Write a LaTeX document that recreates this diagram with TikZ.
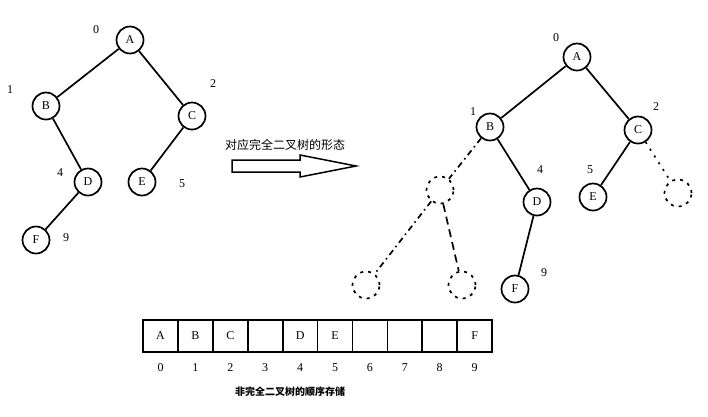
\documentclass[tikz,border=0pt]{standalone}
\usepackage{fontspec}
\setmainfont{Liberation Serif}
\newfontfamily\cjk{Noto Sans CJK SC}
\begin{document}
\begin{tikzpicture}[x=1pt,y=-1pt,
 nd/.style={circle,draw,line width=1.7pt,minimum size=27pt,inner sep=0pt,font=\large},
 gh/.style={circle,draw,line width=1.7pt,dash pattern=on 3pt off 5pt,minimum size=27pt},
 ed/.style={line width=1.7pt},
 de/.style={line width=1.7pt,dash pattern=on 6pt off 4pt on 1.5pt off 4pt},
 lb/.style={font=\large}]
\useasboundingbox (0,0) rectangle (708,416);
% left tree
\node[nd] (A) at (130,40) {A};
\node[nd] (B) at (46,106) {B};
\node[nd] (C) at (192,116) {C};
\node[nd] (D) at (88,182) {D};
\node[nd] (E) at (142,182) {E};
\node[nd] (F) at (36,240) {F};
\draw[ed] (A)--(B) (A)--(C) (B)--(D) (C)--(E) (D)--(F);
\node[lb] at (96,30) {0};
\node[lb] at (10,90) {1};
\node[lb] at (213,84) {2};
\node[lb] at (60,173) {4};
\node[lb] at (182,184) {5};
\node[lb] at (66,238) {9};
% arrow
\node[font=\cjk\large] (T) at (285,145) {对应完全二叉树的形态};
\draw[line width=1.5pt] (232,160)--(300,160)--(300,155)--(356,166)--(300,177)--(300,172)--(232,172)--cycle;
% right tree
\node[nd] (A2) at (577,57) {A};
\node[nd] (B2) at (490,127) {B};
\node[nd] (C2) at (638,130) {C};
\node[nd] (D2) at (537,202) {D};
\node[nd] (E2) at (593,197) {E};
\node[nd] (F2) at (515,289) {F};
\node[gh] (G1) at (440,190) {};
\node[gh] (G2) at (366,285) {};
\node[gh] (G3) at (462,285) {};
\node[gh] (G4) at (678,193) {};
\draw[ed] (A2)--(B2) (A2)--(C2) (B2)--(D2) (C2)--(E2) (D2)--(F2);
\draw[de] (B2)--(G1) (G1)--(G2);
\draw[line width=1.7pt,dash pattern=on 8pt off 5pt] (G1)--(G3);
\draw[line width=1.7pt,dash pattern=on 2pt off 6pt] (C2)--(G4);
\node[lb] at (556,38) {0};
\node[lb] at (473,112) {1};
\node[lb] at (656,107) {2};
\node[lb] at (540,170) {4};
\node[lb] at (590,170) {5};
\node[lb] at (544,273) {9};
% array
\foreach \i/\t in {0/A,1/B,2/C,3/,4/D,5/E,6/,7/,8/,9/F}{
 \node[draw,line width=1.7pt,minimum width=34.9pt,minimum height=32pt,inner sep=0pt,font=\large] (c\i) at (160.5+34.9*\i,336) {\t};
 \node[lb] (n\i) at (160.5+34.9*\i,368) {\i};
}
\node[font=\cjk\normalsize\bfseries] (cap) at (290,392) {非完全二叉树的顺序存储};
\end{tikzpicture}
\end{document}
